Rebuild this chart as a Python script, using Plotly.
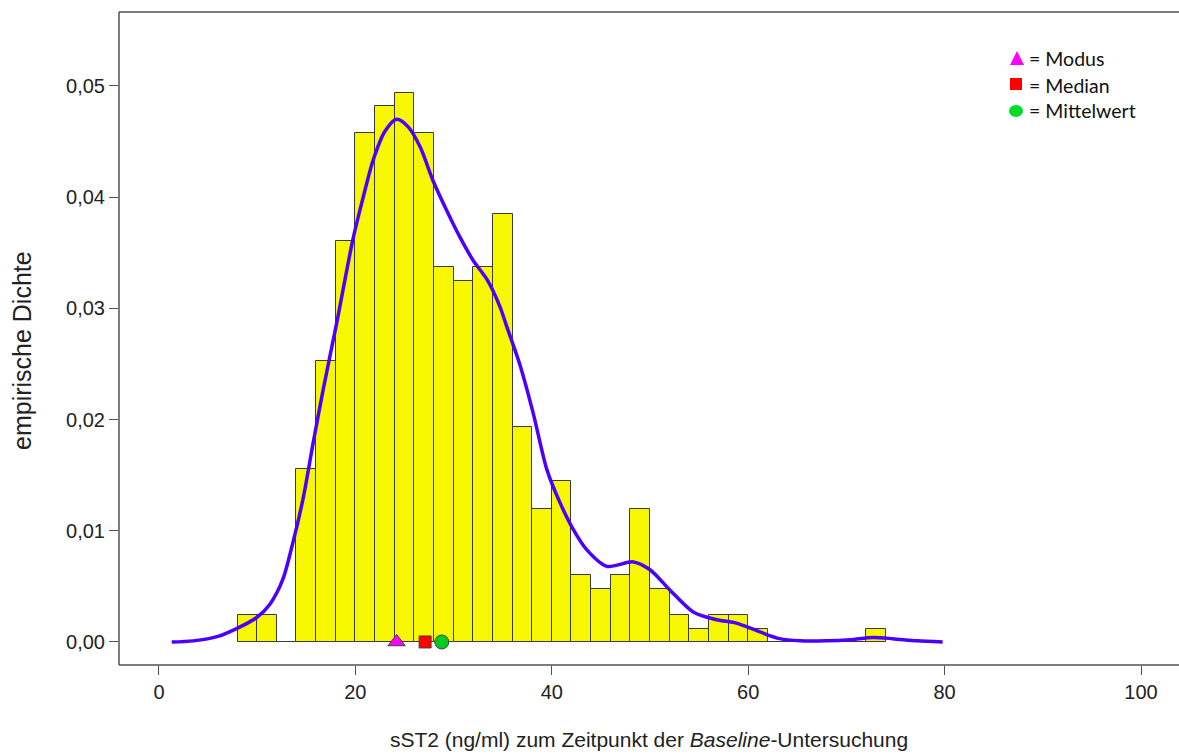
import plotly.graph_objects as go

# Histogram of sST2 baseline values (bin width 2 ng/ml), empirical density
bin_left = [8, 10, 12, 14, 16, 18, 20, 22, 24, 26, 28, 30, 32, 34, 36, 38, 40,
            42, 44, 46, 48, 50, 52, 54, 56, 58, 60, 62, 64, 66, 68, 70, 72]
density = [0.0024, 0.0024, 0.0, 0.0156, 0.0253, 0.0361, 0.0458, 0.0482, 0.0494,
           0.0458, 0.0337, 0.0325, 0.0337, 0.0385, 0.0193, 0.0120, 0.0145,
           0.0060, 0.0048, 0.0060, 0.0120, 0.0048, 0.0024, 0.0012, 0.0024,
           0.0024, 0.0012, 0.0, 0.0, 0.0, 0.0, 0.0, 0.0012]

# Kernel density estimate
kde_x = [1.3, 3.5, 6.0, 7.9, 9.95, 11.3, 12.6, 13.6, 14.7, 15.7, 16.7, 18.1,
         19.75, 20.8, 21.8, 23.0, 24.2, 25.4, 26.6, 27.9, 29.3, 30.65, 32.0,
         33.4, 34.7, 35.4, 36.8, 38.1, 39.5, 40.8, 42.2, 43.55, 45.6, 48.3,
         50.0, 52.0, 54.4, 56.8, 58.8, 61.2, 63.2, 65.3, 68.0, 70.4, 72.7,
         74.7, 77.2, 79.8]
kde_y = [0.0, 0.0001, 0.0005, 0.0012, 0.0022, 0.0034, 0.0056, 0.0088, 0.0130,
         0.0179, 0.0226, 0.0287, 0.0362, 0.0400, 0.0433, 0.0459, 0.0470,
         0.0463, 0.0445, 0.0415, 0.0388, 0.0364, 0.0343, 0.0326, 0.0302,
         0.0284, 0.0248, 0.0206, 0.0155, 0.0126, 0.0101, 0.0083, 0.0068,
         0.0072, 0.0065, 0.0047, 0.0027, 0.0020, 0.0017, 0.0009, 0.0003,
         0.0001, 0.0001, 0.0002, 0.0004, 0.0003, 0.0001, 0.0]

# Location measures
modus = 24.2
median = 27.1
mittelwert = 28.8

x_ticks = [0, 20, 40, 60, 80, 100]
y_ticks = [0.0, 0.01, 0.02, 0.03, 0.04, 0.05]

W, H = 1179, 756
ML, MR, MT, MB = 119, 0, 12, 91
PW, PH = W - ML - MR, H - MT - MB

FRAME = "#505050"
FAMILY = "Liberation Sans, Arial, sans-serif"
TICKFONT = dict(family=FAMILY, size=20, color="#222222")
XTITLEFONT = dict(family=FAMILY, size=21, color="#222222")
YTITLEFONT = dict(family=FAMILY, size=25, color="#222222")

fig = go.Figure()

fig.add_trace(go.Bar(
    x=bin_left, y=density, width=2, offset=0,
    marker=dict(color="#F7F700", line=dict(color="#3a3a3a", width=1)),
    showlegend=False, hoverinfo="skip",
))

fig.add_trace(go.Scatter(
    x=kde_x, y=kde_y, mode="lines",
    line=dict(color="#4B00FF", width=3.5, shape="spline", smoothing=0.8),
    showlegend=False, hoverinfo="skip",
))

marker_line = dict(color="#404040", width=1)
fig.add_trace(go.Scatter(
    x=[modus], y=[0], mode="markers",
    marker=dict(symbol="triangle-up", size=15, color="#FF00FF", line=marker_line),
    showlegend=False, cliponaxis=False,
))
fig.add_trace(go.Scatter(
    x=[median], y=[0], mode="markers",
    marker=dict(symbol="square", size=12, color="#FF0000", line=marker_line),
    showlegend=False, cliponaxis=False,
))
fig.add_trace(go.Scatter(
    x=[mittelwert], y=[0], mode="markers",
    marker=dict(symbol="circle", size=14, color="#00CC22", line=marker_line),
    showlegend=False, cliponaxis=False,
))


def px(xp):
    return (xp - ML) / PW


def py(yp):
    return (H - MB - yp) / PH


shapes = [
    dict(type="line", xref="paper", yref="paper", x0=0, x1=0, y0=0, y1=1,
         line=dict(color=FRAME, width=1.5)),
    dict(type="line", xref="paper", yref="paper", x0=0, x1=1, y0=1, y1=1,
         line=dict(color=FRAME, width=1.5)),
    dict(type="line", xref="paper", yref="paper", x0=0, x1=1, y0=0, y1=0,
         line=dict(color=FRAME, width=1.5)),
]

# Key glyphs
tri = "M {:.5f},{:.5f} L {:.5f},{:.5f} L {:.5f},{:.5f} Z".format(
    px(1010), py(65), px(1024), py(65), px(1017), py(51))
shapes.append(dict(type="path", xref="paper", yref="paper", path=tri,
                   fillcolor="#FF00FF", line=dict(width=0)))
shapes.append(dict(type="rect", xref="paper", yref="paper",
                   x0=px(1010), x1=px(1022), y0=py(90), y1=py(78),
                   fillcolor="#FF0000", line=dict(width=0)))
shapes.append(dict(type="circle", xref="paper", yref="paper",
                   x0=px(1009), x1=px(1023), y0=py(117), y1=py(105),
                   fillcolor="#00DD22", line=dict(width=0)))

key_font = dict(family="Lato, Open Sans, sans-serif", size=19.5, color="#111111")
annotations = []
for label, yp in [("= Modus", 58), ("= Median", 85), ("= Mittelwert", 111)]:
    annotations.append(dict(x=px(1027), y=py(yp), xref="paper", yref="paper",
                            text=label, showarrow=False, xanchor="left",
                            yanchor="middle", font=key_font))

# y-axis title
annotations.append(dict(x=px(22), y=py(351), xref="paper", yref="paper",
                        text="empirische Dichte", showarrow=False, textangle=-90,
                        xanchor="center", yanchor="middle", font=YTITLEFONT))

fig.update_layout(
    width=W, height=H,
    margin=dict(l=ML, r=MR, t=MT, b=MB),
    paper_bgcolor="white", plot_bgcolor="white",
    separators=",.",
    bargap=0,
    shapes=shapes,
    annotations=annotations,
    xaxis=dict(
        range=[-4.07, 103.87], tickvals=x_ticks, ticks="outside", ticklen=9,
        tickcolor=FRAME, tickwidth=1, showgrid=False, zeroline=False,
        showline=False, tickfont=TICKFONT,
        title=dict(text="sST2 (ng/ml) zum Zeitpunkt der <i>Baseline</i>-Untersuchung",
                   font=XTITLEFONT, standoff=30),
    ),
    yaxis=dict(
        range=[-0.00207, 0.05665], tickvals=y_ticks, tickformat=".2f",
        ticks="outside", ticklen=9, tickcolor=FRAME, tickwidth=1,
        showgrid=False, zeroline=False, showline=False, tickfont=TICKFONT,
    ),
)

fig.write_html("out.html")
